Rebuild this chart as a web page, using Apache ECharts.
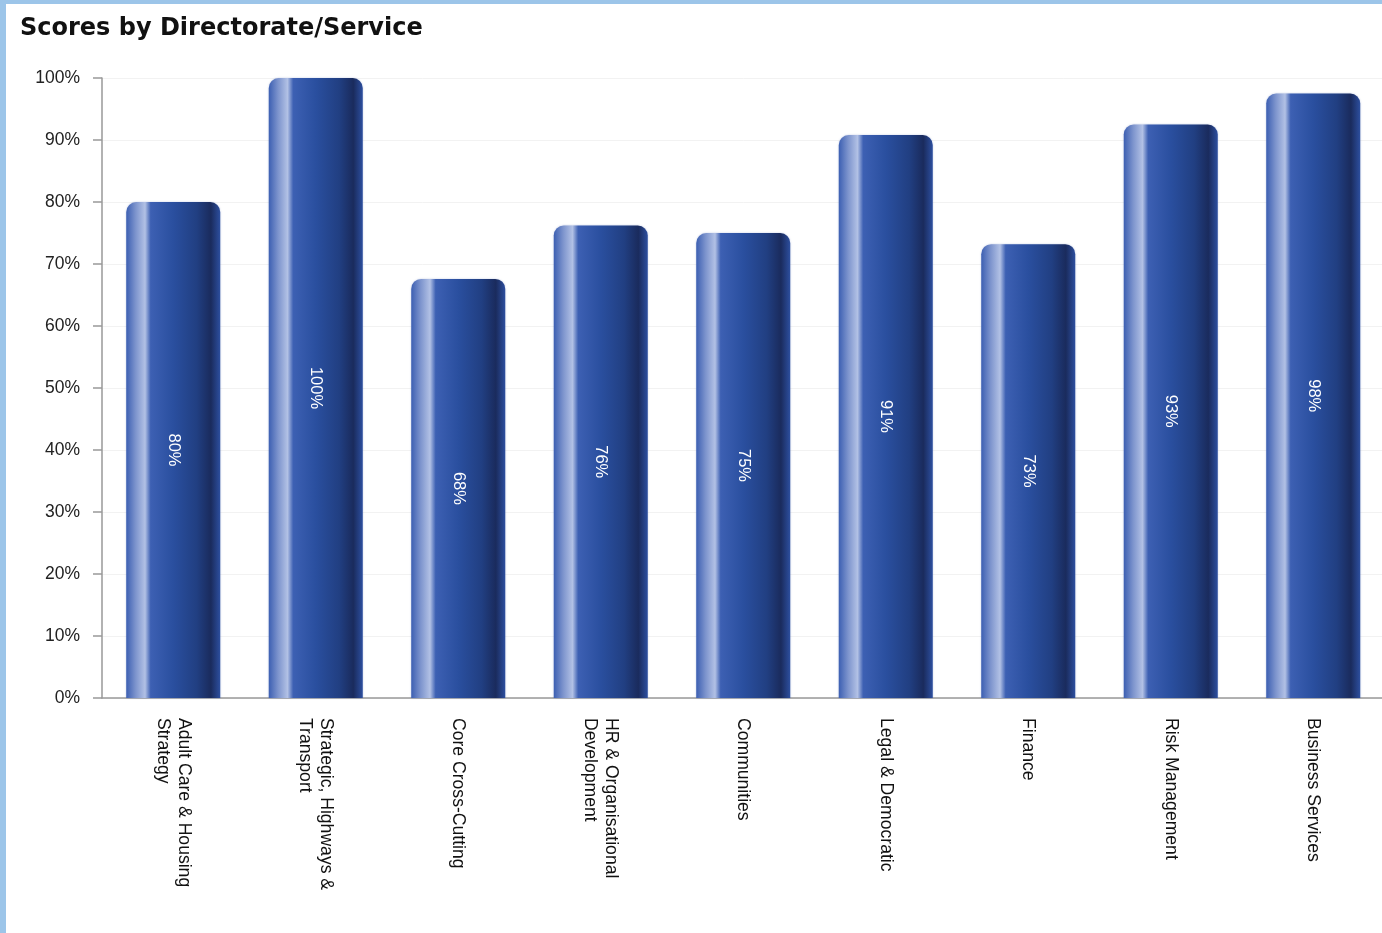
<!DOCTYPE html>
<html>
<head>
<meta charset="utf-8">
<script src="https://cdn.jsdelivr.net/npm/echarts@6/dist/echarts.min.js"></script>
<style>
  html, body { margin: 0; padding: 0; overflow: hidden; background: #9cc5e9; }
  .frame { position: absolute; left: 6px; top: 4px; width: 1376px; height: 929px; background: #fff; overflow: hidden; }
  #chart { width: 1380px; height: 929px; }
</style>
</head>
<body>
<div class="frame"><div id="chart"></div></div>
<script>
var categories = [
  'Adult Care & Housing\nStrategy',
  'Strategic, Highways &\nTransport',
  'Core Cross-Cutting',
  'HR & Organisational\nDevelopment',
  'Communities',
  'Legal & Democratic',
  'Finance',
  'Risk Management',
  'Business Services'
];
var scores = [80, 100, 67.6, 76.2, 75, 90.8, 73.2, 92.5, 97.5];
var yTicks = { min: 0, max: 100, interval: 10 };

var barColor = new echarts.graphic.LinearGradient(0, 0, 1, 0, [
  { offset: 0, color: '#3c5fb2' },
  { offset: 0.1, color: '#7d94cd' },
  { offset: 0.2, color: '#b2c1e5' },
  { offset: 0.26, color: '#3d60b3' },
  { offset: 0.5, color: '#2a4f9f' },
  { offset: 0.75, color: '#213f82' },
  { offset: 0.9, color: '#1a2b5d' },
  { offset: 1, color: '#2d4f9f' }
]);

var chart = echarts.init(document.getElementById('chart'));
chart.setOption({
  animation: false,
  title: {
    text: 'Scores by Directorate/Service',
    left: 9,
    top: 8,
    textStyle: { fontFamily: 'DejaVu Sans', fontSize: 24, fontWeight: 'bold', color: '#111' }
  },
  grid: { left: 96, right: 1.5, top: 74, bottom: 235, containLabel: false },
  xAxis: {
    type: 'category',
    data: categories,
    axisLine: { lineStyle: { color: '#999', width: 1.5 } },
    axisTick: { alignWithLabel: true, length: 10, lineStyle: { color: '#999', width: 1.5 } },
    axisLabel: {
      rotate: -90,
      margin: 20,
      interval: 0,
      color: '#111',
      fontFamily: 'Liberation Sans',
      fontSize: 17.6,
      lineHeight: 21
    }
  },
  yAxis: {
    type: 'value',
    min: yTicks.min,
    max: yTicks.max,
    interval: yTicks.interval,
    axisLine: { show: true, lineStyle: { color: '#999', width: 1.5 } },
    axisTick: { show: true, length: 9, lineStyle: { color: '#999', width: 1.5 } },
    axisLabel: {
      formatter: '{value}%',
      margin: 22,
      color: '#222',
      fontFamily: 'Liberation Sans',
      fontSize: 17.5
    },
    splitLine: { lineStyle: { color: '#f2f2f2' } }
  },
  series: [{
    type: 'bar',
    data: scores,
    barWidth: 94,
    itemStyle: {
      color: barColor,
      borderRadius: [10, 10, 0, 0],
      shadowColor: 'rgba(60,90,170,0.35)',
      shadowBlur: 2
    },
    label: {
      show: true,
      position: 'inside',
      rotate: -90,
      color: '#fff',
      fontFamily: 'Liberation Sans',
      fontSize: 16.5,
      formatter: function (p) { return Math.round(p.value) + '%'; }
    }
  }]
});
</script>
</body>
</html>
